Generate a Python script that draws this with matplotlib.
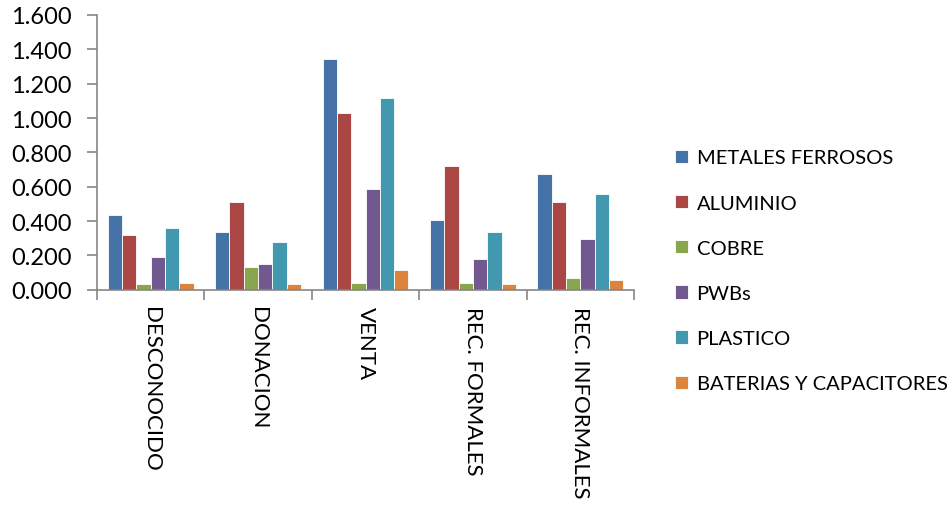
import numpy as np
import matplotlib.pyplot as plt

plt.rcParams['font.family'] = ['Lato', 'DejaVu Sans']

categorias = ["DESCONOCIDO", "DONACION", "VENTA", "REC. FORMALES", "REC. INFORMALES"]
series = ["METALES FERROSOS", "ALUMINIO", "COBRE", "PWBs", "PLASTICO",
          "BATERIAS Y CAPACITORES"]

metales_ferrosos = [0.437, 0.336, 1.344, 0.406, 0.672]
aluminio = [0.317, 0.513, 1.028, 0.719, 0.513]
cobre = [0.033, 0.134, 0.041, 0.041, 0.068]
pwbs = [0.190, 0.148, 0.585, 0.177, 0.294]
plastico = [0.361, 0.280, 1.115, 0.336, 0.558]
baterias = [0.039, 0.031, 0.117, 0.035, 0.058]

valores = [metales_ferrosos, aluminio, cobre, pwbs, plastico, baterias]
colores = ["#4572A7", "#AA4643", "#89A54E", "#71588F", "#4198AF", "#DB843D"]

yticks = [0, 0.2, 0.4, 0.6, 0.8, 1.0, 1.2, 1.4, 1.6]
ytick_labels = ["0.000", "0.200", "0.400", "0.600", "0.800", "1.000",
                "1.200", "1.400", "1.600"]

fig = plt.figure(figsize=(9.5, 5.06), dpi=100)
ax = fig.add_axes([0.1021, 0.4255, 0.5653, 0.5429])

x = np.arange(len(categorias))
ancho = 0.8 / len(series)
for i, (nombre, vals, col) in enumerate(zip(series, valores, colores)):
    pos = x - 0.4 + ancho * (i + 0.5)
    ax.bar(pos, vals, width=ancho, color=col, label=nombre,
           edgecolor="white", linewidth=0.6)

ax.set_xlim(-0.5, len(categorias) - 0.5)
ax.set_ylim(0, 1.6)
ax.set_yticks(yticks)
ax.set_yticklabels(ytick_labels, fontsize=17)

# category ticks sit on the group boundaries, labels at the group centres
ax.set_xticks(np.arange(len(categorias) + 1) - 0.5)
ax.set_xticklabels([])
ax.set_xticks(x, minor=True)
ax.set_xticklabels(categorias, minor=True, rotation=270, fontsize=16,
                   ha="center", va="top")
ax.tick_params(axis="x", which="minor", length=0, pad=12)
ax.tick_params(axis="x", which="major", length=7, color="#868686", width=1.2)
ax.tick_params(axis="y", length=7, color="#868686", width=1.2, pad=11)

for s in ["top", "right"]:
    ax.spines[s].set_visible(False)
for s in ["left", "bottom"]:
    ax.spines[s].set_color("#868686")
    ax.spines[s].set_linewidth(1.2)

ax.legend(loc="upper left", bbox_to_anchor=(1.062, 0.54), frameon=False,
          fontsize=14.5, handlelength=0.65, handleheight=0.65,
          handletextpad=0.4, labelspacing=1.4, borderaxespad=0)

fig.savefig("out.png", dpi=100)
